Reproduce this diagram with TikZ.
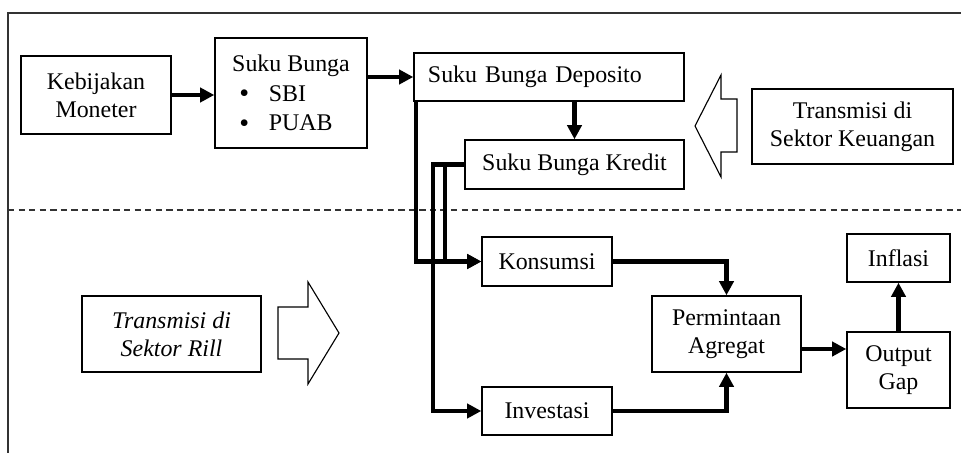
\documentclass[tikz,border=0pt]{standalone}
\usepackage{fontspec}
\setmainfont{Liberation Serif}
\usetikzlibrary{arrows.meta,calc}

\newcommand{\bigdot}{\raisebox{-1pt}[0pt][0pt]{\fontsize{20}{20}\selectfont\textbullet}}

\tikzset{
    box/.style={draw, line width=1pt, align=center, inner sep=0pt, font=\fontsize{17}{20}\selectfont},
    flow/.style={line width=3pt, -{Triangle[length=10pt,width=10pt]}},
    hollow/.style={draw, line width=0.8pt, fill=white},
}

\begin{document}
\begin{tikzpicture}[x=0.025cm, y=-0.025cm]
    \useasboundingbox (0,0) rectangle (961,453);

    % Frame and divider
    \draw[line width=1.3pt, black!80] (961,13) -- (8,13) -- (8,453);
    \draw[line width=1pt, black!80, dash pattern=on 4.5pt off 3pt] (8,210) -- (961,210);

    % Financial sector
    \node[box, minimum width=3.75cm, minimum height=1.95cm] (kebijakan) at (96,95) {Kebijakan\\Moneter};
    \node[box, minimum width=3.8cm, minimum height=2.75cm, align=left, font=\fontsize{17}{21}\selectfont] (sukubunga) at (291,93)
        {Suku Bunga\\\hspace*{5pt}\bigdot\hspace*{14pt}SBI\\\hspace*{5pt}\bigdot\hspace*{14pt}PUAB};
    \node[box, minimum height=1.2cm, text width=6.05cm, inner xsep=0.35cm, align=left] (deposito) at (549,77) {Suku Bunga Deposito};
    \node[box, minimum width=5.475cm, minimum height=1.225cm] (kredit) at (574.5,164.5) {Suku Bunga Kredit};
    \node[box, minimum width=5.025cm, minimum height=1.875cm] (keuangan) at (852.5,126.5) {Transmisi di\\Sektor Keuangan};

    % Real sector
    \node[box, minimum width=4.475cm, minimum height=1.9cm, font=\fontsize{17}{20}\selectfont\itshape] (rill) at (171.5,334) {Transmisi di\\Sektor Rill};
    \node[box, minimum width=3.25cm, minimum height=1.225cm] (konsumsi) at (547,261.5) {Konsumsi};
    \node[box, minimum width=3.25cm, minimum height=1.2cm] (investasi) at (547,411) {Investasi};
    \node[box, minimum width=3.725cm, minimum height=1.9cm] (permintaan) at (726.5,334) {Permintaan\\Agregat};
    \node[box, minimum width=2.575cm, minimum height=1.9cm] (outputgap) at (898.5,370) {Output\\Gap};
    \node[box, minimum width=2.575cm, minimum height=1.2cm] (inflasi) at (898.5,258) {Inflasi};

    % Hollow arrows
    \draw[hollow] (737,99) -- (721,99) -- (721,75) -- (695,126) -- (721,177) -- (721,152) -- (737,152) -- cycle;
    \draw[hollow] (278,307) -- (308,307) -- (308,282) -- (339,333) -- (308,384) -- (308,359) -- (278,359) -- cycle;

    % Connectors
    \draw[flow] (kebijakan.east) -- (kebijakan.east -| sukubunga.west);
    \draw[flow] (sukubunga.east |- deposito.west) -- (deposito.west);
    \draw[flow] (deposito.south -| kredit.north) -- (kredit.north);
    \draw[flow] ($(deposito.south west)+(3,0)$) |- (konsumsi.west);
    \draw[flow] (kredit.west) -- ++(-19,0) |- (konsumsi.west);
    \draw[flow] (kredit.west) -- ++(-31,0) |- (investasi.west);
    \draw[flow] (konsumsi.east) -| (permintaan.north);
    \draw[flow] (investasi.east) -| (permintaan.south);
    \draw[flow] ($(permintaan.east)+(0,15)$) -- ($(outputgap.west)+(0,-21)$);
    \draw[flow] (outputgap) -- (inflasi);
\end{tikzpicture}
\end{document}
